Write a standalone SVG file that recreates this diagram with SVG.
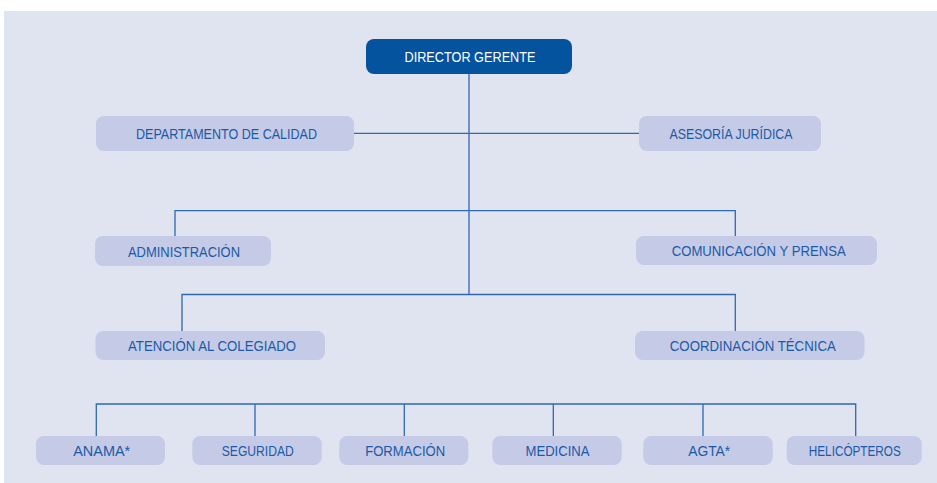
<svg xmlns="http://www.w3.org/2000/svg" width="937" height="483" viewBox="0 0 937 483">
<style>
.bg{fill:#ffffff}
.panel{fill:#e0e3f0}
.box{fill:#c5cae6}
.top{fill:#04539f}
.t{font-family:"Liberation Sans",Arial,sans-serif;font-size:14.5px;fill:#1b5aa7;text-anchor:middle}
.tw{font-family:"Liberation Sans",Arial,sans-serif;font-size:15.5px;fill:#ffffff;text-anchor:middle}
.ln{stroke:#2f69b0;stroke-width:1.3;fill:none}
</style>
<rect class="bg" x="0" y="0" width="937" height="483"/>
<rect class="panel" x="4" y="11" width="933" height="472"/>
<g id="connectors">
<path class="ln" d="M469 74V294.5"/>
<path class="ln" d="M354 133.3H639"/>
<path class="ln" d="M175 236V210.6H735.3V236"/>
<path class="ln" d="M182 331V294.5H735.3V331"/>
<path class="ln" d="M96.3 436V404H855.7V436M255 404V436M404.3 404V436M553.3 404V436M703 404V436"/>
</g>
<g id="director"><rect class="top" x="366" y="39" width="206" height="35" rx="8"/><text class="tw" x="470" y="62.3" textLength="131" lengthAdjust="spacingAndGlyphs">DIRECTOR GERENTE</text></g>
<g id="calidad"><rect class="box" x="96" y="116" width="258" height="35" rx="8"/><text class="t" x="226.5" y="139.3" textLength="181" lengthAdjust="spacingAndGlyphs">DEPARTAMENTO DE CALIDAD</text></g>
<g id="asesoria"><rect class="box" x="639" y="116" width="182" height="35" rx="8"/><text class="t" x="731" y="139.3" textLength="123" lengthAdjust="spacingAndGlyphs">ASESORÍA JURÍDICA</text></g>
<g id="administracion"><rect class="box" x="95" y="236" width="176" height="30" rx="8"/><text class="t" x="184" y="256.5" textLength="112" lengthAdjust="spacingAndGlyphs">ADMINISTRACIÓN</text></g>
<g id="comunicacion"><rect class="box" x="636" y="236" width="241" height="29" rx="8"/><text class="t" x="758.7" y="256.2" textLength="174" lengthAdjust="spacingAndGlyphs">COMUNICACIÓN Y PRENSA</text></g>
<g id="atencion"><rect class="box" x="95.5" y="331" width="229.5" height="29" rx="8"/><text class="t" x="212" y="350.7" textLength="168" lengthAdjust="spacingAndGlyphs">ATENCIÓN AL COLEGIADO</text></g>
<g id="coordinacion"><rect class="box" x="635" y="331" width="229.5" height="29" rx="8"/><text class="t" x="752.8" y="350.7" textLength="166" lengthAdjust="spacingAndGlyphs">COORDINACIÓN TÉCNICA</text></g>
<g id="anama"><rect class="box" x="36" y="436" width="129" height="29" rx="8"/><text class="t" x="101.7" y="455.7" textLength="57" lengthAdjust="spacingAndGlyphs">ANAMA*</text></g>
<g id="seguridad"><rect class="box" x="192.3" y="436" width="129.4" height="29" rx="8"/><text class="t" x="257.8" y="455.7" textLength="72" lengthAdjust="spacingAndGlyphs">SEGURIDAD</text></g>
<g id="formacion"><rect class="box" x="339.3" y="436" width="129" height="29" rx="8"/><text class="t" x="405.2" y="455.7" textLength="80" lengthAdjust="spacingAndGlyphs">FORMACIÓN</text></g>
<g id="medicina"><rect class="box" x="492.3" y="436" width="129.4" height="29" rx="8"/><text class="t" x="557.5" y="455.7" textLength="64" lengthAdjust="spacingAndGlyphs">MEDICINA</text></g>
<g id="agta"><rect class="box" x="643.3" y="436" width="129.4" height="29" rx="8"/><text class="t" x="709.2" y="455.7" textLength="42" lengthAdjust="spacingAndGlyphs">AGTA*</text></g>
<g id="helicopteros"><rect class="box" x="786.7" y="436" width="135" height="29" rx="8"/><text class="t" x="854.8" y="455.7" textLength="92" lengthAdjust="spacingAndGlyphs">HELICÓPTEROS</text></g>
</svg>
